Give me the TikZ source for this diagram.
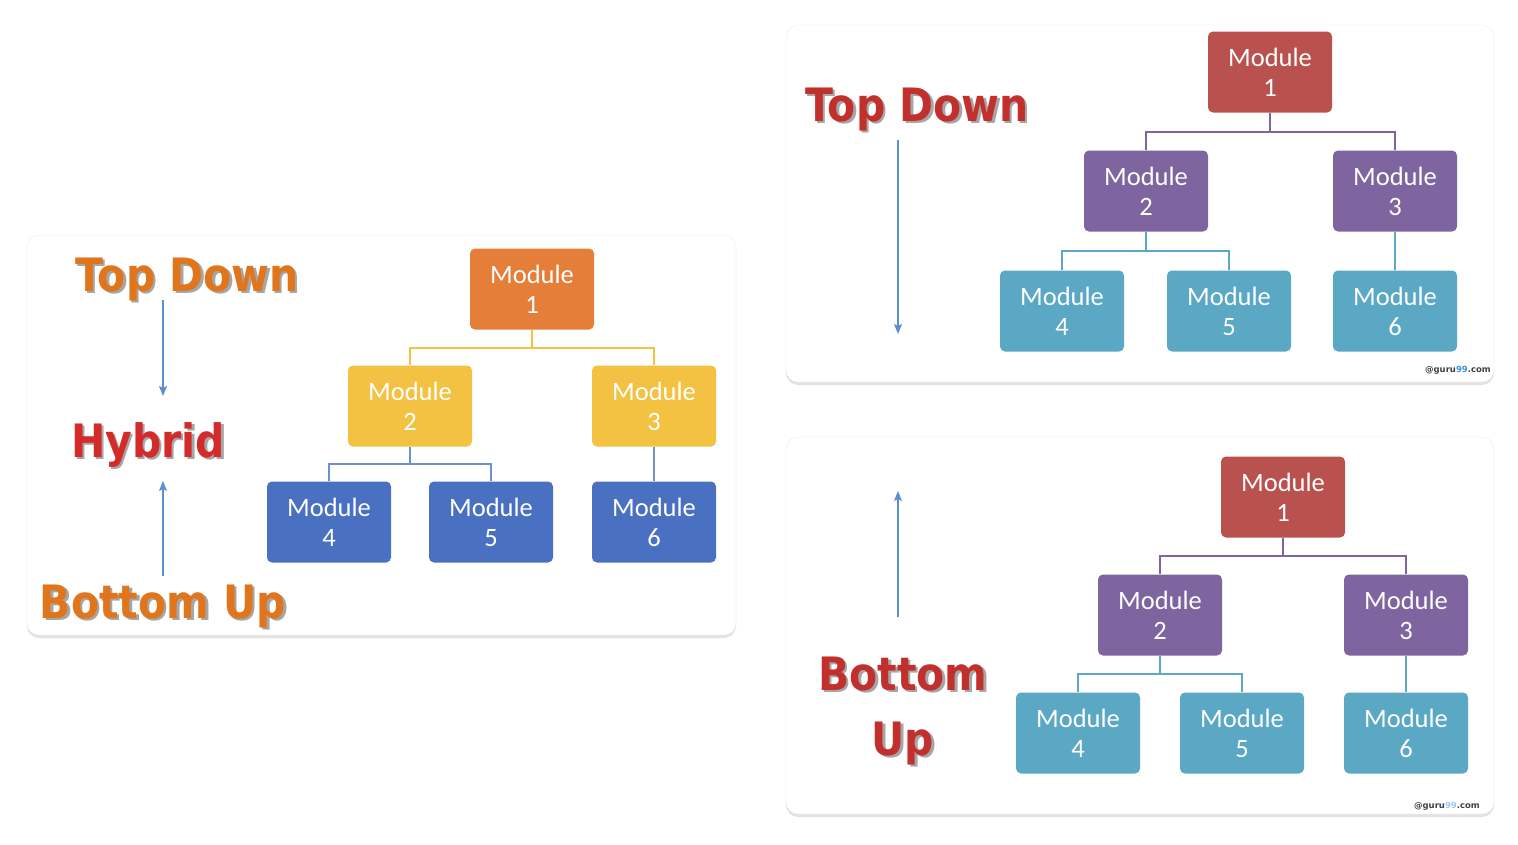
\documentclass[tikz,border=0pt]{standalone}
\usepackage{fontspec}
\setmainfont{Carlito}
\newfontfamily\titlefont{DejaVu Sans}
\usetikzlibrary{arrows.meta,shadows,calc}
\definecolor{hOrange}{HTML}{E57E38}
\definecolor{hYellow}{HTML}{F4C242}
\definecolor{hBlue}{HTML}{4A70C2}
\definecolor{hBlueLine}{HTML}{7090CC}
\definecolor{tRed}{HTML}{B9524F}
\definecolor{tPurple}{HTML}{7E65A0}
\definecolor{tTeal}{HTML}{5AA8C4}
\definecolor{orangeTitle}{HTML}{E0751C}
\definecolor{redTitle}{HTML}{D52A2A}
\definecolor{darkRedTitle}{HTML}{C2302E}
\definecolor{arrowBlue}{HTML}{5B8FD0}
\definecolor{wmBlue}{HTML}{3A8FD8}
\tikzset{
  panel/.style={fill=white, draw=black!8, rounded corners=12pt,
    drop shadow={opacity=0.22, shadow xshift=0pt, shadow yshift=-3pt}},
  modbox/.style={rounded corners=5pt, minimum width=124pt, minimum height=81pt,
    inner sep=0pt, text=white, align=center,
    font=\fontsize{26.5}{30}\selectfont},
  conn/.style={line width=1.6pt},
  bigarrow/.style={line width=1.3pt, draw=arrowBlue, -{Stealth[length=10pt,width=8pt,inset=2pt]}},
  titleshadow/.style={text=black!35, inner sep=0pt, font=\titlefont\bfseries\fontsize{46}{50}\selectfont},
  titletext/.style={inner sep=0pt, font=\titlefont\bfseries\fontsize{46}{50}\selectfont},
  wm/.style={inner sep=0pt, font=\titlefont\bfseries\fontsize{8.5}{10}\selectfont, text=black!75}
}
\newcommand{\sq}[1]{\scalebox{0.89}[1]{#1}}
\begin{document}
\begin{tikzpicture}[x=1pt,y=-1pt]
\useasboundingbox (0,0) rectangle (1518,844);
\fill[white] (0,0) rectangle (1518,844);

% panels
\draw[panel] (27,235) rectangle (736,635);
\draw[panel] (786,25) rectangle (1494,382);
\draw[panel] (786,437) rectangle (1494,814);

% ===== Left panel: Hybrid =====
\node[modbox, fill=hOrange] (L1) at (532,289) {Module\\1};
\node[modbox, fill=hYellow] (L2) at (410,406) {Module\\2};
\node[modbox, fill=hYellow] (L3) at (654,406) {Module\\3};
\node[modbox, fill=hBlue] (L4) at (329,522) {Module\\4};
\node[modbox, fill=hBlue] (L5) at (491,522) {Module\\5};
\node[modbox, fill=hBlue] (L6) at (654,522) {Module\\6};
\draw[conn, hYellow] (L1.south) -- ++(0,18) -| (L2.north);
\draw[conn, hYellow] (L1.south) -- ++(0,18) -| (L3.north);
\draw[conn, hBlueLine] (L2.south) -- ++(0,17) -| (L4.north);
\draw[conn, hBlueLine] (L2.south) -- ++(0,17) -| (L5.north);
\draw[conn, hBlueLine] (L3.south) -- (L6.north);

\node[titleshadow, anchor=base] at (189.5,293.5) {\sq{Top Down}};
\node[titletext, text=orangeTitle, anchor=base] (LTD) at (187,291) {\sq{Top Down}};
\node[titleshadow, anchor=base] at (150.5,459.5) {\sq{Hybrid}};
\node[titletext, text=redTitle, anchor=base] (LHY) at (148,457) {\sq{Hybrid}};
\node[titleshadow, anchor=base] at (165.5,620.5) {\sq{Bottom Up}};
\node[titletext, text=orangeTitle, anchor=base] (LBU) at (163,618) {\sq{Bottom Up}};
\coordinate (la1) at (163,300);
\coordinate (la2) at (163,396);
\coordinate (lb1) at (163,576);
\coordinate (lb2) at (163,481);
\draw[bigarrow] (la1) -- (la2);
\draw[bigarrow] (lb1) -- (lb2);

% ===== Top-right panel: Top Down =====
\node[modbox, fill=tRed] (T1) at (1270,72) {Module\\1};
\node[modbox, fill=tPurple] (T2) at (1146,191) {Module\\2};
\node[modbox, fill=tPurple] (T3) at (1395,191) {Module\\3};
\node[modbox, fill=tTeal] (T4) at (1062,311) {Module\\4};
\node[modbox, fill=tTeal] (T5) at (1229,311) {Module\\5};
\node[modbox, fill=tTeal] (T6) at (1395,311) {Module\\6};
\draw[conn, tPurple] (T1.south) -- ++(0,19) -| (T2.north);
\draw[conn, tPurple] (T1.south) -- ++(0,19) -| (T3.north);
\draw[conn, tTeal] (T2.south) -- ++(0,19) -| (T4.north);
\draw[conn, tTeal] (T2.south) -- ++(0,19) -| (T5.north);
\draw[conn, tTeal] (T3.south) -- (T6.north);

\node[titleshadow, anchor=base] at (919.5,123.5) {\sq{Top Down}};
\node[titletext, text=darkRedTitle, anchor=base] (RTD) at (917,121) {\sq{Top Down}};
\coordinate (ta1) at (898,140);
\coordinate (ta2) at (898,334);
\draw[bigarrow] (ta1) -- (ta2);
\node[wm, anchor=east] (wm1) at (1491,370) {@guru\textcolor{wmBlue}{99}.com};

% ===== Bottom-right panel: Bottom Up =====
\node[modbox, fill=tRed] (B1) at (1283,497) {Module\\1};
\node[modbox, fill=tPurple] (B2) at (1160,615) {Module\\2};
\node[modbox, fill=tPurple] (B3) at (1406,615) {Module\\3};
\node[modbox, fill=tTeal] (B4) at (1078,733) {Module\\4};
\node[modbox, fill=tTeal] (B5) at (1242,733) {Module\\5};
\node[modbox, fill=tTeal] (B6) at (1406,733) {Module\\6};
\draw[conn, tPurple] (B1.south) -- ++(0,18) -| (B2.north);
\draw[conn, tPurple] (B1.south) -- ++(0,18) -| (B3.north);
\draw[conn, tTeal] (B2.south) -- ++(0,18) -| (B4.north);
\draw[conn, tTeal] (B2.south) -- ++(0,18) -| (B5.north);
\draw[conn, tTeal] (B3.south) -- (B6.north);

\node[titleshadow, anchor=base] at (905.5,692.5) {\sq{Bottom}};
\node[titletext, text=darkRedTitle, anchor=base] (RBO) at (903,690) {\sq{Bottom}};
\node[titleshadow, anchor=base] at (905.5,757.5) {\sq{Up}};
\node[titletext, text=darkRedTitle, anchor=base] (RUP) at (903,755) {\sq{Up}};
\coordinate (ba1) at (898,617);
\coordinate (ba2) at (898,491);
\draw[bigarrow] (ba1) -- (ba2);
\node[wm, anchor=east] (wm2) at (1480,806) {@guru\textcolor{wmBlue!50}{99}.com};
\end{tikzpicture}
\end{document}
